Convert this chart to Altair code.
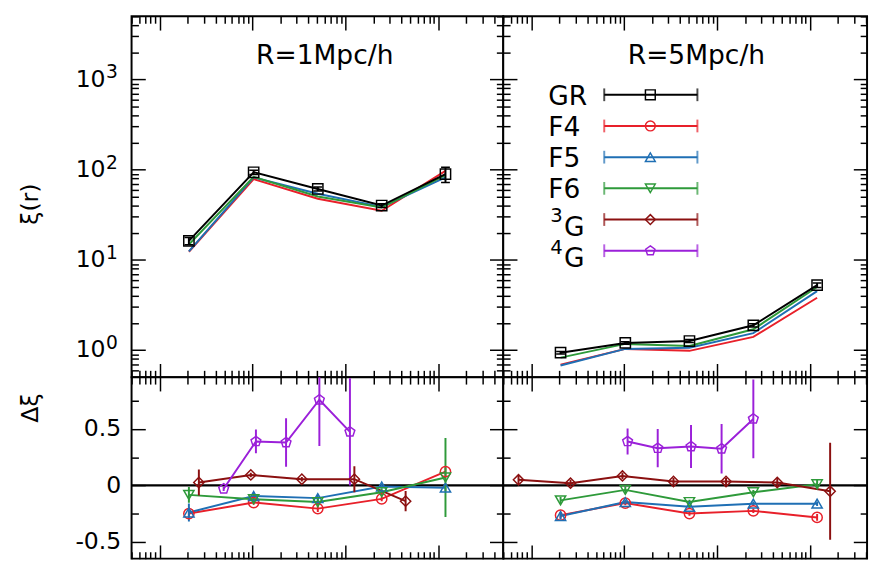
import altair as alt
import pandas as pd

FONT = "DejaVu Sans"

series = ["GR", "F4", "F5", "F6", "³G", "⁴G"]
colors = ["#000000", "#e8202a", "#1f6fb4", "#2e9a3a", "#8b1010", "#9b20d9"]
pentagon = "M0,-1L0.951,-0.309L0.588,0.809L-0.588,0.809L-0.951,-0.309Z"
shapes = ["square", "circle", "triangle-up", "triangle-down", "diamond", pentagon]
leg_main = ["GR", "F4", "F5", "F6", "G", "G"]
leg_sup = ["", "", "", "", "3", "4"]

# x positions (log axis, no labels)
x_f = [2.07, 10.3, 50.5, 246, 1195]
x_3g = [0.73, 2.65, 9.6, 34, 125, 445, 1650]
x_4g = [4.9, 10.9, 23, 52.5, 112, 246]

# ---- top panels: xi(r)
xi1_gr = [16.2, 93.5, 61, 40, 89]
xi1_gr_err = [1.5, 5, 3, 2, 17]
xi1_f4 = [12.3, 78.5, 47.5, 35, 97]
xi1_f5 = [12.4, 82, 54, 38.6, 82]
xi1_f6 = [14.8, 83, 50.4, 38, 87]

xi5_gr = [0.935, 1.2, 1.26, 1.88, 5.25]
xi5_gr_err = [0.03, 0.04, 0.05, 0.08, 0.3]
xi5_f4 = [0.69, 1.03, 0.98, 1.40, 3.8]
xi5_f5 = [0.675, 1.03, 1.06, 1.54, 4.5]
xi5_f6 = [0.824, 1.17, 1.11, 1.70, 5.0]

# ---- bottom panels: delta xi
d1_f4 = [-0.25, -0.152, -0.206, -0.12, 0.122]
d1_f4_err = [0.03, 0.02, 0.03, 0.02, 0.04]
d1_f5 = [-0.24, -0.094, -0.113, -0.01, -0.02]
d1_f5_err = [0.08, 0.03, 0.03, 0.02, 0.03]
d1_f6 = [-0.084, -0.123, -0.148, -0.061, 0.07]
d1_f6_err = [0.07, 0.02, 0.03, 0.03, 0.35]
x1_3g = [2.65, 9.6, 34, 125, 445]
d1_3g = [0.026, 0.093, 0.055, 0.055, -0.14]
d1_3g_err = [0.115, 0.02, 0.02, 0.115, 0.09]
x1_4g = [4.9, 10.9, 23, 52.5, 112]
d1_4g = [-0.03, 0.39, 0.38, 0.76, 0.475]
d1_4g_err = [0.02, 0.105, 0.215, 0.41, 0.475]

d5_f4 = [-0.264, -0.157, -0.25, -0.226, -0.284]
d5_f4_err = [0.03, 0.02, 0.02, 0.02, 0.03]
d5_f5 = [-0.272, -0.148, -0.19, -0.162, -0.162]
d5_f5_err = [0.03, 0.02, 0.02, 0.02, 0.02]
d5_f6 = [-0.133, -0.04, -0.148, -0.061, 0.01]
d5_f6_err = [0.03, 0.03, 0.02, 0.02, 0.04]
d5_3g = [0.05, 0.02, 0.084, 0.035, 0.035, 0.026, -0.052]
d5_3g_err = [0.04, 0.03, 0.03, 0.03, 0.03, 0.04, 0.43]
x5_4g = [10.9, 23, 52.5, 112, 246]
d5_4g = [0.39, 0.33, 0.345, 0.325, 0.59]
d5_4g_err = [0.115, 0.17, 0.19, 0.22, 0.35]

# ticks
x_major = [1, 10, 100, 1000]
x_minor = [0.5, 0.6, 0.7, 0.8, 0.9, 2, 3, 4, 5, 6, 7, 8, 9, 20, 30, 40, 50, 60, 70, 80, 90,
           200, 300, 400, 500, 600, 700, 800, 900, 2000, 3000, 4000, 5000]
ylog_major = [1, 10, 100, 1000]
ylog_exp = ["0", "1", "2", "3"]
ylog_minor = x_minor
ylin_major = [-0.5, 0, 0.5]
ylin_minor = [-0.25, 0.25, 0.75]

XDOM_L = [0.5, 5000]
XDOM_R = [0.5, 4120]
YDOM_T = [0.5, 5000]
YDOM_B = [-0.65, 0.96]
W_L, W_R, H_T, H_B = 379, 371, 368, 185
MAJ, MIN = 14, 7


def frame(xl, yl, el, names):
    rows = []
    for xv, yv, ev, n in zip(xl, yl, el, names):
        for a, b, c in zip(xv, yv, ev):
            rows.append({"x": a, "y": b, "err": c, "s": n})
    return pd.DataFrame(rows)


color = alt.Color("s:N", scale=alt.Scale(domain=series, range=colors), legend=None)
shape = alt.Shape("s:N", scale=alt.Scale(domain=series, range=shapes), legend=None)


def ax(orient, values, size, **kw):
    d = dict(orient=orient, values=values, tickSize=size, offset=-size, domain=False,
             grid=False, labels=False, title=None, ticks=True, tickColor="black",
             tickWidth=1.5, minExtent=0, maxExtent=0)
    d.update(kw)
    return alt.Axis(**d)


def panel(W, H, xdom, ydom, ytype, ymaj, ymin, data_layers, label_expr=None,
          label_pad=11, ytitle=None, title_y=None, title_text=None, exps=False):
    xs = alt.Scale(type="log", domain=xdom, nice=False)
    if ytype == "log":
        ys = alt.Scale(type="log", domain=ydom, nice=False)
    else:
        ys = alt.Scale(type="linear", domain=ydom, nice=False, zero=False)
    xmin = [v for v in x_minor if xdom[0] <= v <= xdom[1]]
    ymn = [v for v in ymin if ydom[0] <= v <= ydom[1]]
    dummy = pd.DataFrame({"ax": [xdom[0] * 3], "ay": [ydom[0] * 0.5 + ydom[1] * 0.5]})

    def axis_layer(xa, ya):
        return alt.Chart(dummy).mark_point(opacity=0, size=1).encode(
            x=alt.X("ax:Q", scale=xs, axis=xa), y=alt.Y("ay:Q", scale=ys, axis=ya))

    if label_expr is not None:
        yleft = ax("left", ymaj, MAJ, labels=True, labelExpr=label_expr, labelFont=FONT,
                   labelFontSize=24, labelPadding=label_pad, labelColor="black",
                   title=ytitle, titleFont=FONT, titleFontSize=24, titleFontWeight="normal",
                   titleAngle=270, titleX=-105, titleY=title_y, titleBaseline="bottom",
                   titleAlign="center", titleColor="black", maxExtent=200)
    else:
        yleft = ax("left", ymaj, MAJ)
    layers = [
        axis_layer(ax("bottom", x_major, MAJ), yleft),
        axis_layer(ax("bottom", xmin, MIN), ax("left", ymn, MIN)),
        axis_layer(ax("top", x_major, MAJ), ax("right", ymaj, MAJ)),
        axis_layer(ax("top", xmin, MIN), ax("right", ymn, MIN)),
    ]
    if exps:
        layers.append(alt.Chart(pd.DataFrame({"v": ylog_major, "e": ylog_exp})).mark_text(
            font=FONT, fontSize=19, align="left", baseline="alphabetic", color="black", dy=-1
        ).encode(text="e:N", x=alt.value(-26), y=alt.Y("v:Q", scale=ys, axis=None)))
    layers += data_layers(xs, ys)
    if title_text:
        layers.append(alt.Chart(pd.DataFrame({"t": [title_text]})).mark_text(
            font=FONT, fontSize=27, align="center", baseline="alphabetic", color="black"
        ).encode(text="t:N", x=alt.value(197), y=alt.value(49)))
    return alt.layer(*layers).resolve_scale(x="independent", y="independent").properties(
        width=W, height=H,
        view=alt.ViewBackground(stroke="black", strokeWidth=2, fill="white"))


def series_layers(df, xs, ys, points=True, errors=True, caps=False, clip=True):
    X = alt.X("x:Q", scale=xs, axis=None)
    Y = alt.Y("y:Q", scale=ys, axis=None)
    out = [alt.Chart(df).mark_line(strokeWidth=2, clip=clip).encode(x=X, y=Y, color=color)]
    if errors:
        base = alt.Chart(df).transform_calculate(
            lo="datum.y - datum.err", hi="datum.y + datum.err")
        out.append(base.mark_rule(strokeWidth=2, clip=clip).encode(
            x=X, y=alt.Y("lo:Q", scale=ys, axis=None), y2="hi:Q", color=color))
        if caps:
            for fld in ["lo", "hi"]:
                out.append(base.mark_tick(orient="horizontal", size=9, thickness=1.5,
                                          opacity=1, clip=clip).encode(
                    x=X, y=alt.Y(f"{fld}:Q", scale=ys, axis=None), color=color))
    if points:
        out.append(alt.Chart(df).mark_point(filled=False, size=110, strokeWidth=1.5,
                                            opacity=1, clip=clip).encode(
            x=X, y=Y, color=color, shape=shape))
    return out


def top_layers(gr, gr_err, f4, f5, f6):
    def fn(xs, ys):
        dfl = frame([x_f, x_f, x_f], [f4, f5, f6], [[0] * 5] * 3, ["F4", "F5", "F6"])
        dfg = frame([x_f], [gr], [gr_err], ["GR"])
        return (series_layers(dfl, xs, ys, points=False, errors=False)
                + series_layers(dfg, xs, ys, caps=True))
    return fn


def bottom_layers(xl, yl, el, names):
    def fn(xs, ys):
        zero = alt.Chart(pd.DataFrame({"z": [0]})).mark_rule(
            strokeWidth=2.5, color="black").encode(y=alt.Y("z:Q", scale=ys, axis=None))
        df = frame(xl, yl, el, names)
        return [zero] + series_layers(df, xs, ys)
    return fn


def legend_layers():
    leg = pd.DataFrame({"s": series, "main": leg_main, "sup": leg_sup})
    ly = alt.Y("s:N", scale=alt.Scale(type="point", domain=series, range=[80, 239], padding=0),
               axis=None)
    txt = dict(font=FONT, color="black", baseline="alphabetic", align="left")
    return [
        alt.Chart(leg).mark_rule(strokeWidth=2).encode(
            x=alt.value(103), x2=alt.value(198), y=ly, color=color),
        alt.Chart(leg).mark_tick(orient="vertical", size=13, thickness=2).encode(
            x=alt.value(103), y=ly, color=color),
        alt.Chart(leg).mark_tick(orient="vertical", size=13, thickness=2).encode(
            x=alt.value(198), y=ly, color=color),
        alt.Chart(leg).mark_point(filled=False, size=100, strokeWidth=1.5, opacity=1).encode(
            x=alt.value(150), y=ly, color=color, shape=shape),
        alt.Chart(leg).transform_filter("datum.sup == ''").mark_text(
            fontSize=27, dy=10, **txt).encode(x=alt.value(46), y=ly, text="main:N"),
        alt.Chart(leg).transform_filter("datum.sup != ''").mark_text(
            fontSize=27, dy=17, **txt).encode(x=alt.value(62), y=ly, text="main:N"),
        alt.Chart(leg).transform_filter("datum.sup != ''").mark_text(
            fontSize=20, dy=3, **txt).encode(x=alt.value(48), y=ly, text="sup:N"),
    ]


log_expr = "'10'"
lin_expr = ("datum.value == 0 ? '0' : (datum.value < 0 ? '-' : '') + "
            "format(abs(datum.value), '.1f')")

tl = panel(W_L, H_T, XDOM_L, YDOM_T, "log", ylog_major, ylog_minor,
           top_layers(xi1_gr, xi1_gr_err, xi1_f4, xi1_f5, xi1_f6),
           label_expr=log_expr, label_pad=27, ytitle="ξ(r)", title_y=191,
           title_text="R=1Mpc/h", exps=True)


def tr_fn(xs, ys):
    return top_layers(xi5_gr, xi5_gr_err, xi5_f4, xi5_f5, xi5_f6)(xs, ys) + legend_layers()


tr = panel(W_R, H_T, XDOM_R, YDOM_T, "log", ylog_major, ylog_minor, tr_fn,
           title_text="R=5Mpc/h")

bl = panel(W_L, H_B, XDOM_L, YDOM_B, "linear", ylin_major, ylin_minor,
           bottom_layers([x_f, x_f, x_f, x1_3g, x1_4g],
                         [d1_f4, d1_f5, d1_f6, d1_3g, d1_4g],
                         [d1_f4_err, d1_f5_err, d1_f6_err, d1_3g_err, d1_4g_err],
                         ["F4", "F5", "F6", "³G", "⁴G"]),
           label_expr=lin_expr, ytitle="Δξ", title_y=31)

br = panel(W_R, H_B, XDOM_R, YDOM_B, "linear", ylin_major, ylin_minor,
           bottom_layers([x_f, x_f, x_f, x_3g, x5_4g],
                         [d5_f4, d5_f5, d5_f6, d5_3g, d5_4g],
                         [d5_f4_err, d5_f5_err, d5_f6_err, d5_3g_err, d5_4g_err],
                         ["F4", "F5", "F6", "³G", "⁴G"]))

chart = alt.concat(tl, tr, bl, br, columns=2, spacing=0, align="each", bounds="flush").properties(
    padding={"left": 10, "top": 1, "right": 0, "bottom": 0}
).configure_view(stroke="black", strokeWidth=2).configure(font=FONT)

chart.save("out.html", embed_options={"renderer": "svg", "actions": False})
